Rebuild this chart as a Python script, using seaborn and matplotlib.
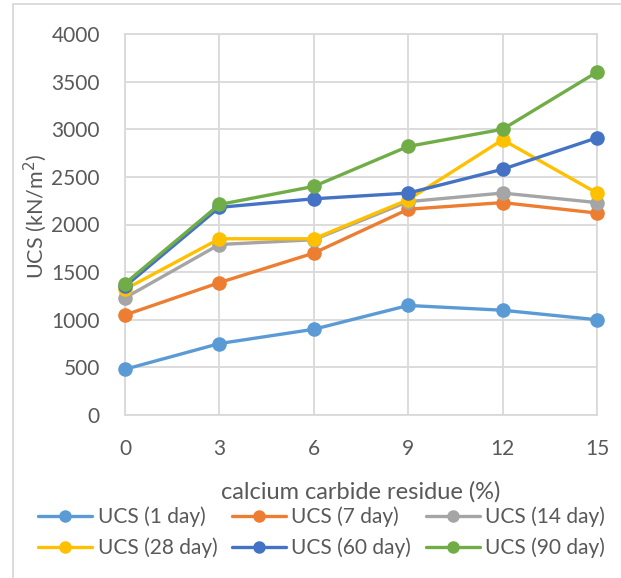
import matplotlib
matplotlib.use("Agg")
import matplotlib.pyplot as plt
from matplotlib.lines import Line2D
import seaborn as sns
import pandas as pd

# Calcium carbide residue content (%)
ccr = [0, 3, 6, 9, 12, 15]

# Unconfined compressive strength (kN/m^2) by curing period
ucs_1 = [480, 750, 900, 1150, 1100, 1000]
ucs_7 = [1050, 1390, 1700, 2160, 2230, 2120]
ucs_14 = [1230, 1790, 1840, 2240, 2330, 2230]
ucs_28 = [1320, 1850, 1850, 2260, 2890, 2330]
ucs_60 = [1350, 2180, 2270, 2330, 2580, 2910]
ucs_90 = [1380, 2210, 2400, 2820, 3000, 3600]

series_names = ["UCS (1 day)", "UCS (7 day)", "UCS (14 day)",
                "UCS (28 day)", "UCS (60 day)", "UCS (90 day)"]
series_values = [ucs_1, ucs_7, ucs_14, ucs_28, ucs_60, ucs_90]
colors = ["#5B9BD5", "#ED7D31", "#A5A5A5", "#FFC000", "#4472C4", "#70AD47"]

rows = []
for name, vals in zip(series_names, series_values):
    for x, v in zip(ccr, vals):
        rows.append({"ccr": x, "ucs": v, "series": name})
df = pd.DataFrame(rows)

sns.set_theme(style="white")
plt.rcParams["font.family"] = ["Lato", "DejaVu Sans"]
text_color = "#595959"

fig = plt.figure(figsize=(6.21, 5.78), dpi=100)
ax = fig.add_axes([125 / 621, 1 - 415 / 578, (597 - 125) / 621, (415 - 34) / 578])

sns.lineplot(data=df, x="ccr", y="ucs", hue="series", hue_order=series_names,
             palette=colors, marker="o", markersize=10.5, markeredgewidth=0,
             linewidth=2.4, ax=ax, legend=False, clip_on=False, zorder=3)

ax.set_xlim(0, 15)
ax.set_ylim(0, 4000)
ax.set_xticks(ccr)
ax.set_yticks(range(0, 4001, 500))
ax.grid(True, color="#D9D9D9", linewidth=1.3)
ax.set_axisbelow(True)
for sp in ax.spines.values():
    sp.set_color("#D9D9D9")
    sp.set_linewidth(1.3)
ax.tick_params(axis="both", length=0, labelsize=15, labelcolor=text_color)
ax.tick_params(axis="y", pad=18)
ax.tick_params(axis="x", pad=17)

ax.set_xlabel("calcium carbide residue (%)", fontsize=17, color=text_color)
ax.xaxis.set_label_coords(0.5, -(492 - 415) / (415 - 34), transform=ax.transAxes)
ax.xaxis.label.set_va("center")
ax.set_ylabel("UCS (kN/m$^2$)", fontsize=15.5, color=text_color)
ax.yaxis.set_label_coords(-(125 - 35) / (597 - 125), 0.52, transform=ax.transAxes)
ax.yaxis.label.set_va("center")

# Legend laid out row by row: (1, 7, 14) then (28, 60, 90)
handles = [Line2D([], [], color=c, linewidth=2.4, marker="o", markersize=9,
                  markeredgewidth=0) for c in colors]
order = [0, 3, 1, 4, 2, 5]
fig.legend([handles[i] for i in order], [series_names[i] for i in order],
           ncol=3, loc="center", bbox_to_anchor=(0.518, 1 - 532 / 578),
           frameon=False, fontsize=15, labelcolor=text_color,
           handlelength=2.6, handletextpad=0.25, columnspacing=0.7,
           labelspacing=0.5)

# Chart area border
fig.add_artist(Line2D([13 / 621, 13 / 621], [0, 1 - 4 / 578], color="#D9D9D9",
                      linewidth=1.3, transform=fig.transFigure))
fig.add_artist(Line2D([13 / 621, 1], [1 - 4 / 578, 1 - 4 / 578], color="#D9D9D9",
                      linewidth=1.3, transform=fig.transFigure))

fig.savefig("out.png", dpi=100)
